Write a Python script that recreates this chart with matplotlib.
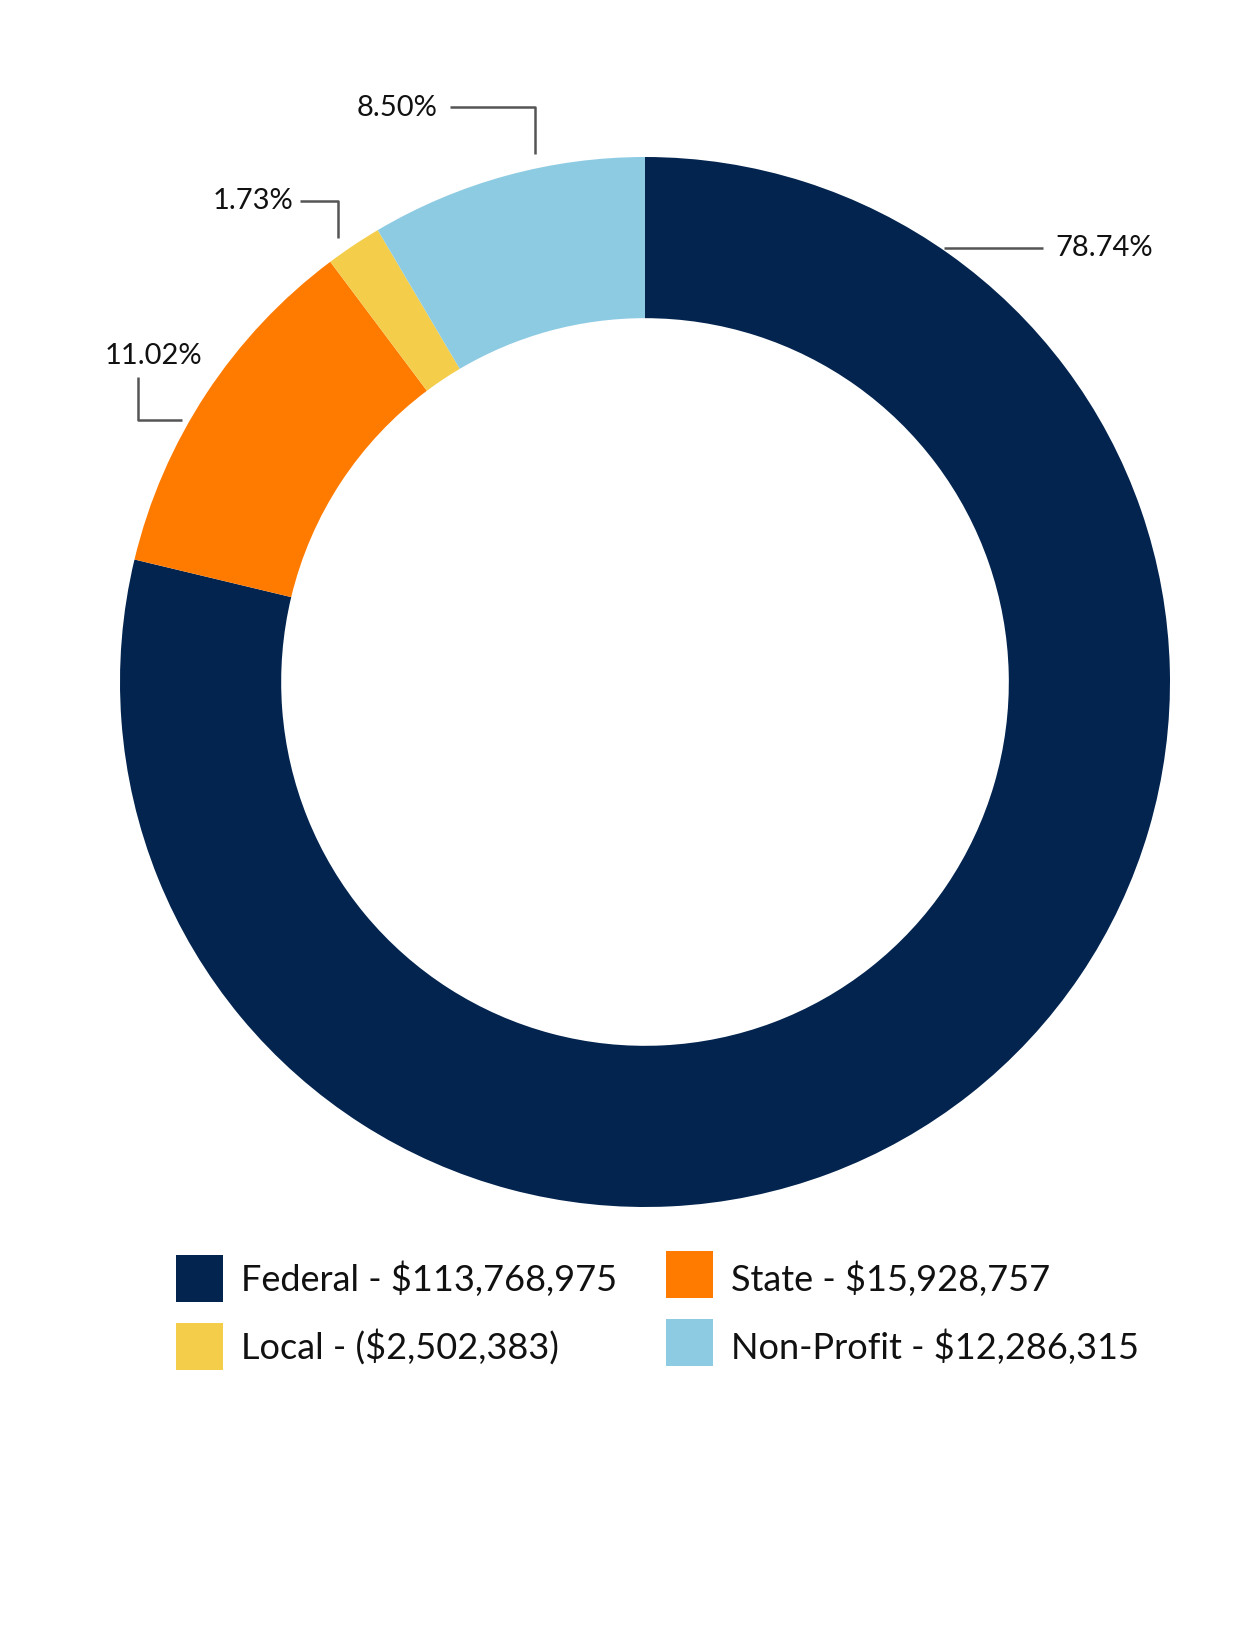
import matplotlib
matplotlib.use("Agg")
import matplotlib.pyplot as plt
from matplotlib.patches import Rectangle

plt.rcParams['font.family'] = ['Lato', 'DejaVu Sans']

# data
sources = ["Federal", "State", "Local", "Non-Profit"]
amounts = ["$113,768,975", "$15,928,757", "($2,502,383)", "$12,286,315"]
shares = [78.74, 11.02, 1.73, 8.50]
colors = ["#02244F", "#FF7B00", "#F4CD4A", "#8DCBE3"]

W, H = 1250, 1650
fig = plt.figure(figsize=(W / 100, H / 100), dpi=100)
ax = fig.add_axes([0, 0, 1, 1])

def fy(y):
    # convert from top-down pixel coordinates
    return H - y

R = 525
ax.pie(shares, colors=colors, startangle=90, counterclock=False,
       center=(645, fy(682)), radius=R,
       wedgeprops=dict(width=R * 0.307, linewidth=0))
ax.set_xlim(0, W)
ax.set_ylim(0, H)
ax.set_aspect('equal')
ax.axis('off')

# percent labels with elbow leader lines (layout in pixels)
line_kw = dict(color="#555555", lw=1.8, solid_capstyle='butt')
label_layout = {
    "Federal": dict(text=(1055, 248), ha='left', path=[(944, 248), (1043, 248)]),
    "State": dict(text=(153, 356), ha='center', path=[(138, 377), (138, 420), (182, 420)]),
    "Local": dict(text=(293, 201), ha='right', path=[(300, 201), (338, 201), (338, 238)]),
    "Non-Profit": dict(text=(438, 108), ha='right', path=[(450, 107), (535, 107), (535, 154)]),
}
for name, pct in zip(sources, shares):
    lay = label_layout[name]
    tx, ty = lay["text"]
    ax.text(tx, fy(ty), f"{pct:.2f}%", ha=lay["ha"], va='center',
            fontsize=21, color="#111111")
    xs = [p[0] for p in lay["path"]]
    ys = [fy(p[1]) for p in lay["path"]]
    ax.plot(xs, ys, **line_kw)

# legend, two columns
col_x = [176, 666]
row_y = [1278, 1346]
box = 47
order = [(0, 0), (1, 0), (0, 1), (1, 1)]  # (col, row) for Federal, State, Local, Non-Profit
for (c, r), name, amt, col in zip(order, sources, amounts, colors):
    x = col_x[c]
    y = row_y[r]
    by = y - (4 if c == 1 else 0)
    ax.add_patch(Rectangle((x, fy(by) - box / 2), box, box, color=col, lw=0))
    ax.text(x + box + 18, fy(y + 1), f"{name} - {amt}", ha='left', va='center',
            fontsize=26, color="#111111")

fig.savefig("out.png", dpi=100)
